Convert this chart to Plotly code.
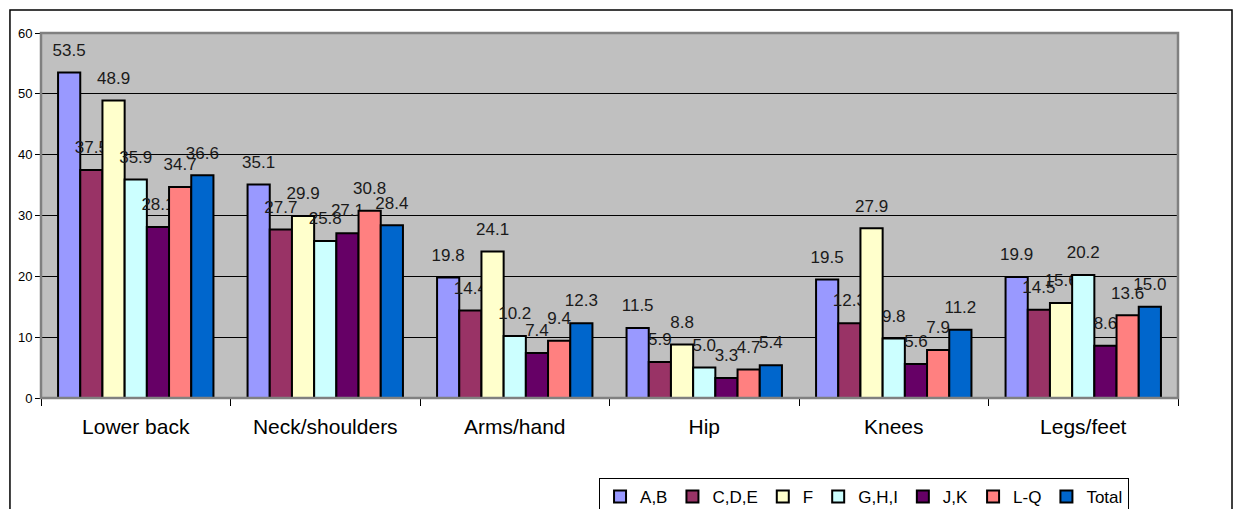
import plotly.graph_objects as go

# body regions on the category axis
regions = ["Lower back", "Neck/shoulders", "Arms/hand", "Hip", "Knees", "Legs/feet"]

# one list per group, same order as regions
ab = [53.5, 35.1, 19.8, 11.5, 19.5, 19.9]
cde = [37.5, 27.7, 14.4, 5.9, 12.3, 14.5]
f_grp = [48.9, 29.9, 24.1, 8.8, 27.9, 15.6]
ghi = [35.9, 25.8, 10.2, 5.0, 9.8, 20.2]
jk = [28.1, 27.1, 7.4, 3.3, 5.6, 8.6]
lq = [34.7, 30.8, 9.4, 4.7, 7.9, 13.6]
total = [36.6, 28.4, 12.3, 5.4, 11.2, 15.0]

series = [
    ("A,B", ab, "#9999FF"),
    ("C,D,E", cde, "#993366"),
    ("F", f_grp, "#FFFFCC"),
    ("G,H,I", ghi, "#CCFFFF"),
    ("J,K", jk, "#660066"),
    ("L-Q", lq, "#FF8080"),
    ("Total", total, "#0066CC"),
]

FONT = "Liberation Sans, Arial, sans-serif"

fig = go.Figure()
for name, vals, color in series:
    fig.add_trace(go.Bar(
        name=name,
        x=regions,
        y=vals,
        marker=dict(color=color, line=dict(color="#000000", width=2)),
        # small blank second line lifts the label clear of the bar, like Excel
        text=[f"<span style='font-size:17px'>{v:.1f}</span><br> " for v in vals],
        textposition="outside",
        constraintext="none",
        cliponaxis=False,
        textfont=dict(family=FONT, size=9, color="#1a1a1a"),
    ))

fig.update_layout(
    width=1237,
    height=509,
    barmode="group",
    bargap=0.18,
    bargroupgap=0,
    plot_bgcolor="#C0C0C0",
    paper_bgcolor="#FFFFFF",
    font=dict(family=FONT, size=12, color="#000000"),
    margin=dict(l=41, r=59, t=33, b=111, autoexpand=False),
    showlegend=True,
    legend=dict(
        orientation="h",
        x=0.4908, xanchor="left",
        y=-0.219, yanchor="top",
        bordercolor="#000000", borderwidth=1,
        bgcolor="#FFFFFF",
        font=dict(family=FONT, size=17, color="#000000"),
        itemwidth=30,
        traceorder="normal",
    ),
    shapes=[
        # outer chart frame
        dict(type="rect", xref="paper", yref="paper",
             x0=-0.0273, x1=1.0475, y0=-0.4, y1=1.063,
             line=dict(color="#000000", width=1.5), layer="below"),
        # plot area border
        dict(type="rect", xref="paper", yref="paper",
             x0=0, x1=1, y0=0, y1=1,
             line=dict(color="#808080", width=2.5), layer="above"),
    ],
)

fig.update_xaxes(
    type="category",
    showgrid=False,
    showline=True, linecolor="#000000", linewidth=1,
    ticks="outside", tickson="boundaries", ticklen=7, tickcolor="#000000",
    ticklabelstandoff=10,
    tickfont=dict(family=FONT, size=21, color="#000000"),
)
fig.update_yaxes(
    range=[0, 60],
    dtick=10,
    showgrid=True, gridcolor="#000000", gridwidth=1,
    zeroline=False,
    showline=False,
    ticks="outside", ticklen=5, tickcolor="#000000",
    tickfont=dict(family=FONT, size=13, color="#000000"),
)

# the page body has a default margin; drop it so the chart sits at 0,0
fig.write_html(
    "out.html",
    config={"displayModeBar": False},
    post_script="document.body.style.margin='0';",
)
